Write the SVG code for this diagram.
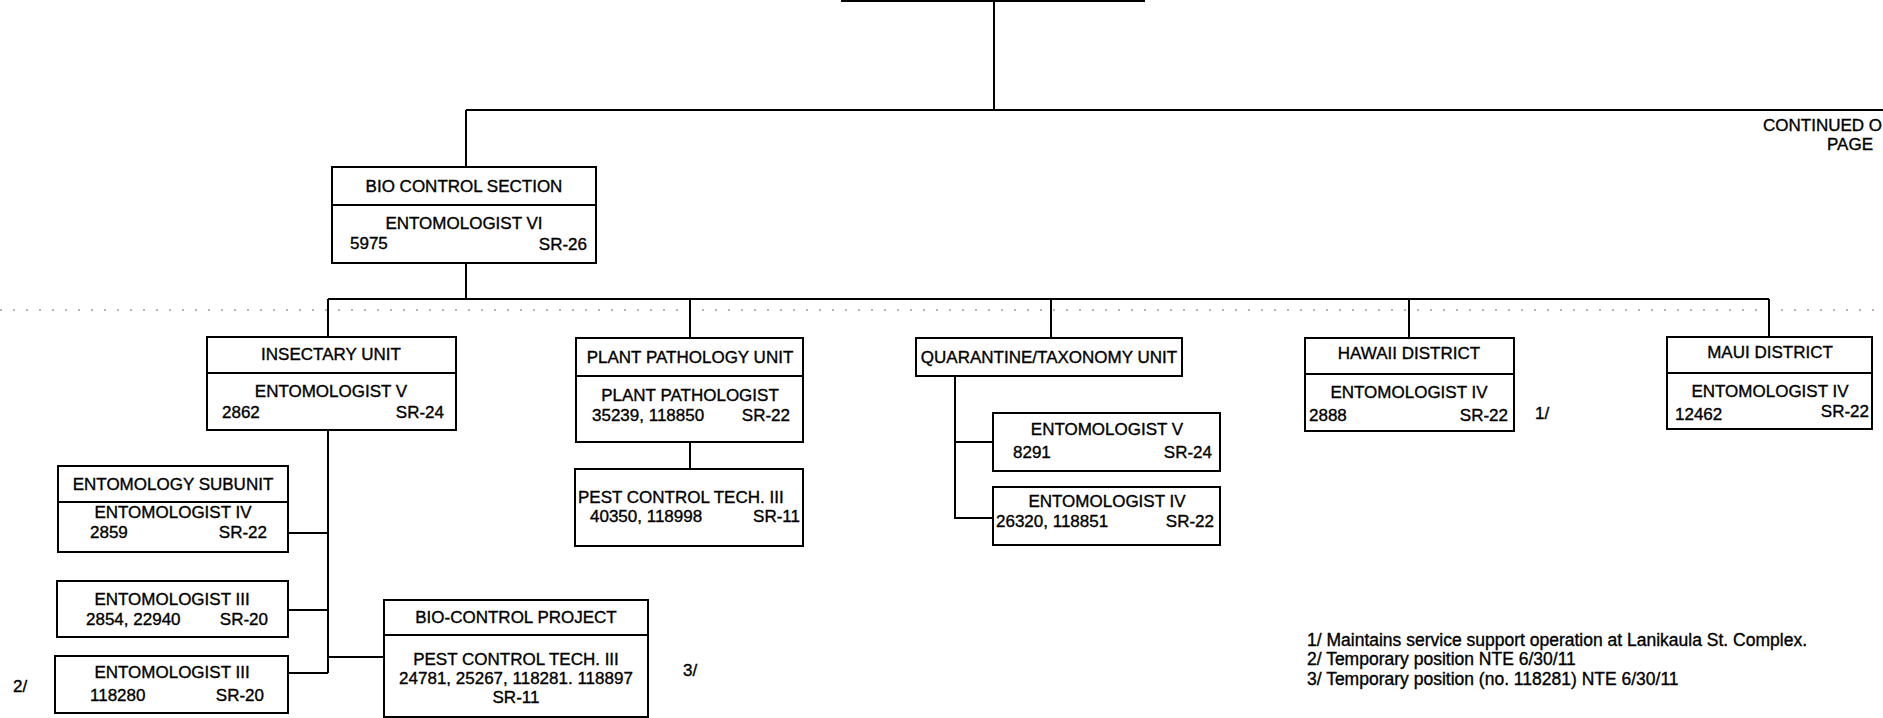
<svg xmlns="http://www.w3.org/2000/svg" width="1883" height="718" viewBox="0 0 1883 718">
<style>
.bg{fill:#fff}
.box{fill:#fff;stroke:#000;stroke-width:2}
.ln{fill:none;stroke:#000;stroke-width:2}
.dot{fill:none;stroke:#a0a0a0;stroke-width:1.5;stroke-dasharray:2 11}
text{font-family:"Liberation Sans",Arial,Helvetica,sans-serif;font-size:17px;fill:#000;stroke:#000;stroke-width:0.35}
.c{text-anchor:middle}
.r{text-anchor:end}
.fn{font-size:17.5px}
</style>
<rect class="bg" x="0" y="0" width="1883" height="718"/>
<line class="dot" x1="0" y1="310" x2="1883" y2="310"/>
<g id="connectors">
<path class="ln" d="M994,0 V110 M466,110 H1883 M466,110 V167"/>
<path class="ln" d="M466,263 V299 M328,299 H1769 M328,299 V337 M690,299 V338 M1051,299 V338 M1409,299 V338 M1769,299 V337"/>
<path class="ln" d="M328,430 V673 M288,533 H328 M288,610 H328 M288,673 H328 M328,657 H384"/>
<path class="ln" d="M690,442 V469"/>
<path class="ln" d="M955,376 V518 H993 M955,442 H993"/>
</g>
<g id="node-top">
<rect class="box" x="842" y="-40" width="302" height="41"/>
</g>
<g id="node-continued">
<text x="1763" y="131">CONTINUED O</text>
<text x="1827" y="150">PAGE</text>
</g>
<g id="node-bio-control-section">
<rect class="box" x="332" y="167" width="264" height="96"/>
<line class="ln" x1="332" y1="205" x2="596" y2="205"/>
<text class="c" x="464" y="192">BIO CONTROL SECTION</text>
<text class="c" x="464" y="229">ENTOMOLOGIST VI</text>
<text x="350" y="249">5975</text>
<text class="r" x="587" y="250">SR-26</text>
</g>
<g id="node-insectary">
<rect class="box" x="207" y="337" width="249" height="93"/>
<line class="ln" x1="207" y1="373" x2="456" y2="373"/>
<text class="c" x="331" y="360">INSECTARY UNIT</text>
<text class="c" x="331" y="397">ENTOMOLOGIST V</text>
<text x="222" y="418">2862</text>
<text class="r" x="444" y="418">SR-24</text>
</g>
<g id="node-plant-pathology">
<rect class="box" x="576" y="338" width="227" height="104"/>
<line class="ln" x1="576" y1="376" x2="803" y2="376"/>
<text class="c" x="690" y="363">PLANT PATHOLOGY UNIT</text>
<text class="c" x="690" y="401">PLANT PATHOLOGIST</text>
<text x="592" y="421">35239, 118850</text>
<text class="r" x="790" y="421">SR-22</text>
</g>
<g id="node-pest-control-pp">
<rect class="box" x="575" y="469" width="228" height="77"/>
<text x="578" y="503">PEST CONTROL TECH. III</text>
<text x="590" y="522">40350, 118998</text>
<text class="r" x="800" y="522">SR-11</text>
</g>
<g id="node-quarantine">
<rect class="box" x="916" y="338" width="266" height="38"/>
<text class="c" x="1049" y="363">QUARANTINE/TAXONOMY UNIT</text>
</g>
<g id="node-q-ent-v">
<rect class="box" x="993" y="413" width="227" height="58"/>
<text class="c" x="1107" y="435">ENTOMOLOGIST V</text>
<text x="1013" y="458">8291</text>
<text class="r" x="1212" y="458">SR-24</text>
</g>
<g id="node-q-ent-iv">
<rect class="box" x="993" y="487" width="227" height="58"/>
<text class="c" x="1107" y="507">ENTOMOLOGIST IV</text>
<text x="996" y="527">26320, 118851</text>
<text class="r" x="1214" y="527">SR-22</text>
</g>
<g id="node-hawaii">
<rect class="box" x="1305" y="338" width="209" height="93"/>
<line class="ln" x1="1305" y1="374" x2="1514" y2="374"/>
<text class="c" x="1409" y="359">HAWAII DISTRICT</text>
<text class="c" x="1409" y="398">ENTOMOLOGIST IV</text>
<text x="1309" y="421">2888</text>
<text class="r" x="1508" y="421">SR-22</text>
<text x="1535" y="419">1/</text>
</g>
<g id="node-maui">
<rect class="box" x="1667" y="337" width="205" height="92"/>
<line class="ln" x1="1667" y1="373" x2="1872" y2="373"/>
<text class="c" x="1770" y="358">MAUI DISTRICT</text>
<text class="c" x="1770" y="397">ENTOMOLOGIST IV</text>
<text x="1675" y="420">12462</text>
<text class="r" x="1869" y="417">SR-22</text>
</g>
<g id="node-entomology-subunit">
<rect class="box" x="58" y="466" width="230" height="86"/>
<line class="ln" x1="58" y1="502" x2="288" y2="502"/>
<text class="c" x="173" y="490">ENTOMOLOGY SUBUNIT</text>
<text class="c" x="173" y="518">ENTOMOLOGIST IV</text>
<text x="90" y="538">2859</text>
<text class="r" x="267" y="538">SR-22</text>
</g>
<g id="node-ent-iii-a">
<rect class="box" x="57" y="581" width="231" height="56"/>
<text class="c" x="172" y="605">ENTOMOLOGIST III</text>
<text x="86" y="625">2854, 22940</text>
<text class="r" x="268" y="625">SR-20</text>
</g>
<g id="node-ent-iii-b">
<rect class="box" x="55" y="656" width="233" height="57"/>
<text class="c" x="172" y="678">ENTOMOLOGIST III</text>
<text x="90" y="701">118280</text>
<text class="r" x="264" y="701">SR-20</text>
<text x="13" y="692">2/</text>
</g>
<g id="node-bio-control-project">
<rect class="box" x="384" y="600" width="264" height="117"/>
<line class="ln" x1="384" y1="635" x2="648" y2="635"/>
<text class="c" x="516" y="623">BIO-CONTROL PROJECT</text>
<text class="c" x="516" y="665">PEST CONTROL TECH. III</text>
<text class="c" x="516" y="684">24781, 25267, 118281. 118897</text>
<text class="c" x="516" y="703">SR-11</text>
<text x="683" y="676">3/</text>
</g>
<g id="footnotes">
<text class="fn" x="1307" y="646">1/ Maintains service support operation at Lanikaula St. Complex.</text>
<text class="fn" x="1307" y="665">2/ Temporary position NTE 6/30/11</text>
<text class="fn" x="1307" y="685">3/ Temporary position (no. 118281) NTE 6/30/11</text>
</g>
</svg>
